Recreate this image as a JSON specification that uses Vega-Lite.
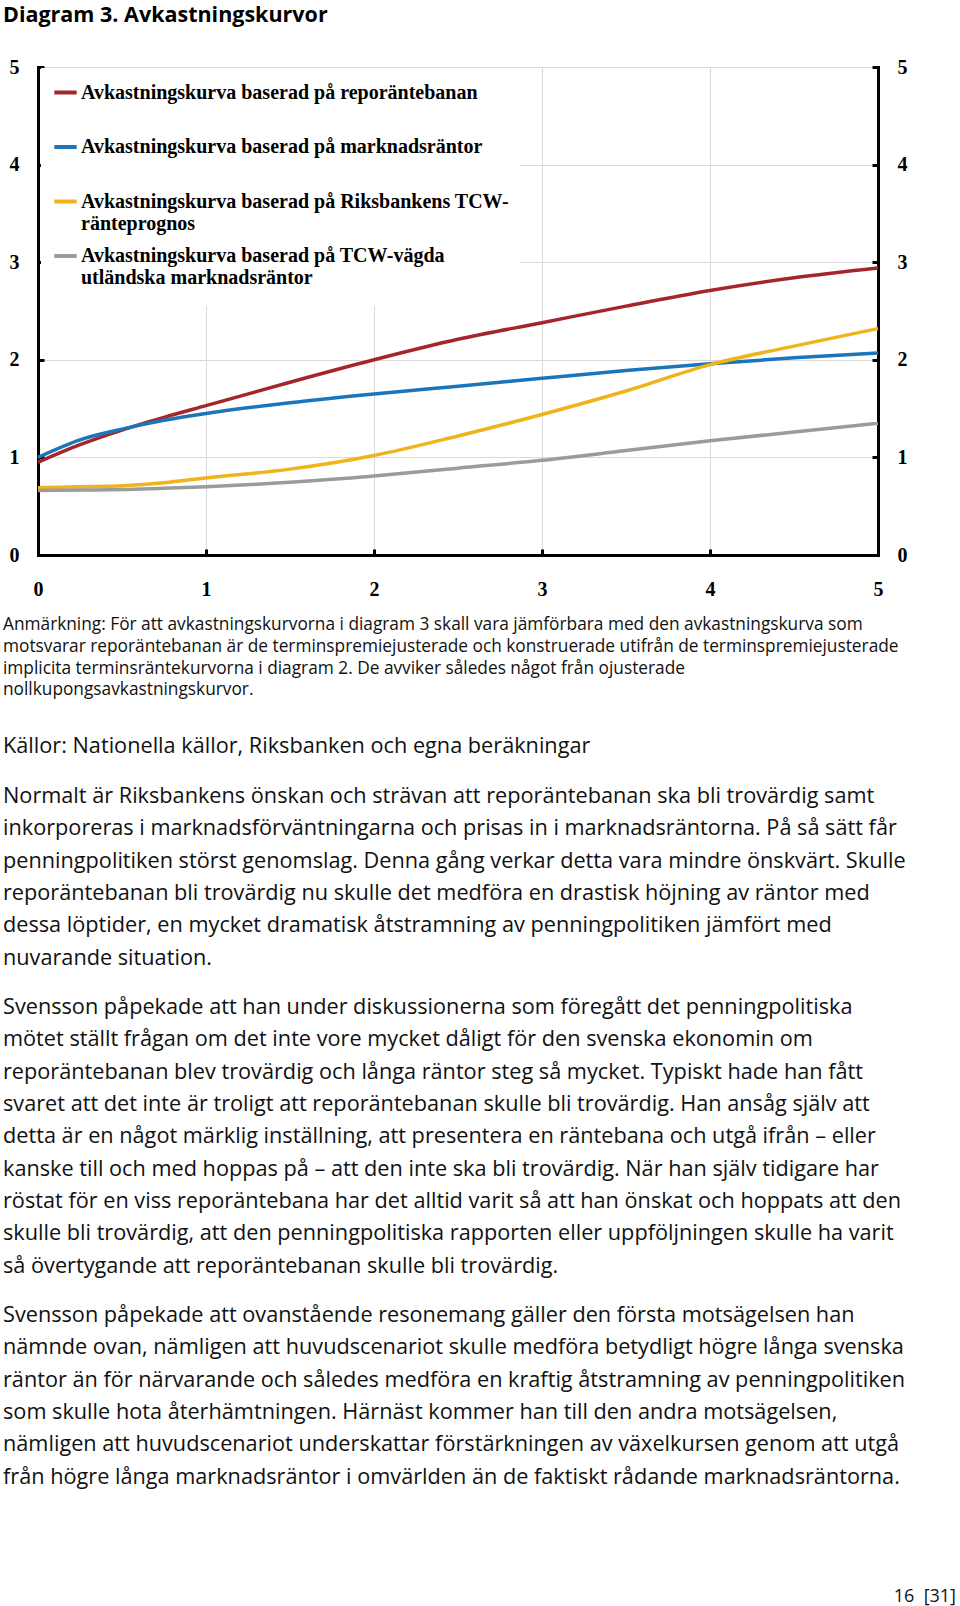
{
  "$schema": "https://vega.github.io/schema/vega-lite/v6.json",
  "background": "white",
  "padding": {"left": 3, "top": 4, "right": 0, "bottom": 0},
  "config": {"view": {"stroke": null}, "font": "Open Sans"},
  "title": {"text": "Diagram 3. Avkastningskurvor", "anchor": "start", "font": "Open Sans", "fontSize": 21.5, "fontWeight": "bold", "color": "#000000", "offset": 31},
  "spacing": 17,
  "datasets": {
    "kurvor": [
      {"lopetid": 0, "ranta": 0.95, "kurva": "Avkastningskurva baserad på reporäntebanan"},
      {"lopetid": 0.25, "ranta": 1.13, "kurva": "Avkastningskurva baserad på reporäntebanan"},
      {"lopetid": 0.5, "ranta": 1.28, "kurva": "Avkastningskurva baserad på reporäntebanan"},
      {"lopetid": 0.75, "ranta": 1.41, "kurva": "Avkastningskurva baserad på reporäntebanan"},
      {"lopetid": 1, "ranta": 1.53, "kurva": "Avkastningskurva baserad på reporäntebanan"},
      {"lopetid": 1.5, "ranta": 1.77, "kurva": "Avkastningskurva baserad på reporäntebanan"},
      {"lopetid": 2, "ranta": 2.0, "kurva": "Avkastningskurva baserad på reporäntebanan"},
      {"lopetid": 2.5, "ranta": 2.21, "kurva": "Avkastningskurva baserad på reporäntebanan"},
      {"lopetid": 3, "ranta": 2.38, "kurva": "Avkastningskurva baserad på reporäntebanan"},
      {"lopetid": 3.5, "ranta": 2.55, "kurva": "Avkastningskurva baserad på reporäntebanan"},
      {"lopetid": 4, "ranta": 2.71, "kurva": "Avkastningskurva baserad på reporäntebanan"},
      {"lopetid": 4.5, "ranta": 2.84, "kurva": "Avkastningskurva baserad på reporäntebanan"},
      {"lopetid": 5, "ranta": 2.94, "kurva": "Avkastningskurva baserad på reporäntebanan"},
      {"lopetid": 0, "ranta": 1.0, "kurva": "Avkastningskurva baserad på marknadsräntor"},
      {"lopetid": 0.25, "ranta": 1.18, "kurva": "Avkastningskurva baserad på marknadsräntor"},
      {"lopetid": 0.5, "ranta": 1.29, "kurva": "Avkastningskurva baserad på marknadsräntor"},
      {"lopetid": 0.75, "ranta": 1.38, "kurva": "Avkastningskurva baserad på marknadsräntor"},
      {"lopetid": 1, "ranta": 1.45, "kurva": "Avkastningskurva baserad på marknadsräntor"},
      {"lopetid": 1.5, "ranta": 1.56, "kurva": "Avkastningskurva baserad på marknadsräntor"},
      {"lopetid": 2, "ranta": 1.65, "kurva": "Avkastningskurva baserad på marknadsräntor"},
      {"lopetid": 2.5, "ranta": 1.73, "kurva": "Avkastningskurva baserad på marknadsräntor"},
      {"lopetid": 3, "ranta": 1.81, "kurva": "Avkastningskurva baserad på marknadsräntor"},
      {"lopetid": 3.5, "ranta": 1.89, "kurva": "Avkastningskurva baserad på marknadsräntor"},
      {"lopetid": 4, "ranta": 1.96, "kurva": "Avkastningskurva baserad på marknadsräntor"},
      {"lopetid": 4.5, "ranta": 2.02, "kurva": "Avkastningskurva baserad på marknadsräntor"},
      {"lopetid": 5, "ranta": 2.07, "kurva": "Avkastningskurva baserad på marknadsräntor"},
      {"lopetid": 0, "ranta": 0.69, "kurva": "Avkastningskurva baserad på Riksbankens TCW-ränteprognos"},
      {"lopetid": 0.25, "ranta": 0.7, "kurva": "Avkastningskurva baserad på Riksbankens TCW-ränteprognos"},
      {"lopetid": 0.5, "ranta": 0.71, "kurva": "Avkastningskurva baserad på Riksbankens TCW-ränteprognos"},
      {"lopetid": 0.75, "ranta": 0.74, "kurva": "Avkastningskurva baserad på Riksbankens TCW-ränteprognos"},
      {"lopetid": 1, "ranta": 0.79, "kurva": "Avkastningskurva baserad på Riksbankens TCW-ränteprognos"},
      {"lopetid": 1.5, "ranta": 0.88, "kurva": "Avkastningskurva baserad på Riksbankens TCW-ränteprognos"},
      {"lopetid": 2, "ranta": 1.02, "kurva": "Avkastningskurva baserad på Riksbankens TCW-ränteprognos"},
      {"lopetid": 2.5, "ranta": 1.22, "kurva": "Avkastningskurva baserad på Riksbankens TCW-ränteprognos"},
      {"lopetid": 3, "ranta": 1.44, "kurva": "Avkastningskurva baserad på Riksbankens TCW-ränteprognos"},
      {"lopetid": 3.5, "ranta": 1.68, "kurva": "Avkastningskurva baserad på Riksbankens TCW-ränteprognos"},
      {"lopetid": 4, "ranta": 1.95, "kurva": "Avkastningskurva baserad på Riksbankens TCW-ränteprognos"},
      {"lopetid": 4.5, "ranta": 2.14, "kurva": "Avkastningskurva baserad på Riksbankens TCW-ränteprognos"},
      {"lopetid": 5, "ranta": 2.32, "kurva": "Avkastningskurva baserad på Riksbankens TCW-ränteprognos"},
      {"lopetid": 0, "ranta": 0.66, "kurva": "Avkastningskurva baserad på TCW-vägda utländska marknadsräntor"},
      {"lopetid": 0.25, "ranta": 0.665, "kurva": "Avkastningskurva baserad på TCW-vägda utländska marknadsräntor"},
      {"lopetid": 0.5, "ranta": 0.67, "kurva": "Avkastningskurva baserad på TCW-vägda utländska marknadsräntor"},
      {"lopetid": 0.75, "ranta": 0.685, "kurva": "Avkastningskurva baserad på TCW-vägda utländska marknadsräntor"},
      {"lopetid": 1, "ranta": 0.7, "kurva": "Avkastningskurva baserad på TCW-vägda utländska marknadsräntor"},
      {"lopetid": 1.5, "ranta": 0.745, "kurva": "Avkastningskurva baserad på TCW-vägda utländska marknadsräntor"},
      {"lopetid": 2, "ranta": 0.81, "kurva": "Avkastningskurva baserad på TCW-vägda utländska marknadsräntor"},
      {"lopetid": 2.5, "ranta": 0.89, "kurva": "Avkastningskurva baserad på TCW-vägda utländska marknadsräntor"},
      {"lopetid": 3, "ranta": 0.97, "kurva": "Avkastningskurva baserad på TCW-vägda utländska marknadsräntor"},
      {"lopetid": 3.5, "ranta": 1.07, "kurva": "Avkastningskurva baserad på TCW-vägda utländska marknadsräntor"},
      {"lopetid": 4, "ranta": 1.17, "kurva": "Avkastningskurva baserad på TCW-vägda utländska marknadsräntor"},
      {"lopetid": 4.5, "ranta": 1.26, "kurva": "Avkastningskurva baserad på TCW-vägda utländska marknadsräntor"},
      {"lopetid": 5, "ranta": 1.35, "kurva": "Avkastningskurva baserad på TCW-vägda utländska marknadsräntor"}
    ],
    "tekst": [
      {"block": "not", "rad": 1, "text": "Anmärkning: För att avkastningskurvorna i diagram 3 skall vara jämförbara med den avkastningskurva som"},
      {"block": "not", "rad": 2, "text": "motsvarar reporäntebanan är de terminspremiejusterade och konstruerade utifrån de terminspremiejusterade"},
      {"block": "not", "rad": 3, "text": "implicita terminsräntekurvorna i diagram 2. De avviker således något från ojusterade"},
      {"block": "not", "rad": 4, "text": "nollkupongsavkastningskurvor."},
      {"block": "kallor", "rad": 1, "text": "Källor: Nationella källor, Riksbanken och egna beräkningar"},
      {"block": "p1", "rad": 1, "text": "Normalt är Riksbankens önskan och strävan att reporäntebanan ska bli trovärdig samt"},
      {"block": "p1", "rad": 2, "text": "inkorporeras i marknadsförväntningarna och prisas in i marknadsräntorna. På så sätt får"},
      {"block": "p1", "rad": 3, "text": "penningpolitiken störst genomslag. Denna gång verkar detta vara mindre önskvärt. Skulle"},
      {"block": "p1", "rad": 4, "text": "reporäntebanan bli trovärdig nu skulle det medföra en drastisk höjning av räntor med"},
      {"block": "p1", "rad": 5, "text": "dessa löptider, en mycket dramatisk åtstramning av penningpolitiken jämfört med"},
      {"block": "p1", "rad": 6, "text": "nuvarande situation."},
      {"block": "p2", "rad": 1, "text": "Svensson påpekade att han under diskussionerna som föregått det penningpolitiska"},
      {"block": "p2", "rad": 2, "text": "mötet ställt frågan om det inte vore mycket dåligt för den svenska ekonomin om"},
      {"block": "p2", "rad": 3, "text": "reporäntebanan blev trovärdig och långa räntor steg så mycket. Typiskt hade han fått"},
      {"block": "p2", "rad": 4, "text": "svaret att det inte är troligt att reporäntebanan skulle bli trovärdig. Han ansåg själv att"},
      {"block": "p2", "rad": 5, "text": "detta är en något märklig inställning, att presentera en räntebana och utgå ifrån – eller"},
      {"block": "p2", "rad": 6, "text": "kanske till och med hoppas på – att den inte ska bli trovärdig. När han själv tidigare har"},
      {"block": "p2", "rad": 7, "text": "röstat för en viss reporäntebana har det alltid varit så att han önskat och hoppats att den"},
      {"block": "p2", "rad": 8, "text": "skulle bli trovärdig, att den penningpolitiska rapporten eller uppföljningen skulle ha varit"},
      {"block": "p2", "rad": 9, "text": "så övertygande att reporäntebanan skulle bli trovärdig."},
      {"block": "p3", "rad": 1, "text": "Svensson påpekade att ovanstående resonemang gäller den första motsägelsen han"},
      {"block": "p3", "rad": 2, "text": "nämnde ovan, nämligen att huvudscenariot skulle medföra betydligt högre långa svenska"},
      {"block": "p3", "rad": 3, "text": "räntor än för närvarande och således medföra en kraftig åtstramning av penningpolitiken"},
      {"block": "p3", "rad": 4, "text": "som skulle hota återhämtningen. Härnäst kommer han till den andra motsägelsen,"},
      {"block": "p3", "rad": 5, "text": "nämligen att huvudscenariot underskattar förstärkningen av växelkursen genom att utgå"},
      {"block": "p3", "rad": 6, "text": "från högre långa marknadsräntor i omvärlden än de faktiskt rådande marknadsräntorna."},
      {"block": "sida", "rad": 1, "text": "16\u00a0 [31]"}
    ]
  },
  "vconcat": [
    {
      "width": 840,
      "height": 488,
      "data": {"name": "kurvor"},
      "layer": [
        {
          "mark": {"type": "line", "strokeWidth": 3.5, "interpolate": "monotone"},
          "encoding": {
            "x": {
              "field": "lopetid", "type": "quantitative",
              "scale": {"domain": [0, 5], "nice": false, "zero": false},
              "axis": {
                "title": null, "values": [0, 1, 2, 3, 4, 5], "format": "d", "labelFlush": false, "labelOverlap": false,
                "domainColor": "#000000", "domainWidth": 3, "domainCap": "square",
                "ticks": true, "tickColor": "#000000", "tickWidth": 3, "tickSize": -6,
                "grid": true, "gridColor": "#d9d9d9", "gridWidth": 1,
                "labelFont": "Liberation Serif", "labelFontSize": 20, "labelFontWeight": "bold", "labelColor": "#000000",
                "labelPadding": 30
              }
            },
            "y": {
              "field": "ranta", "type": "quantitative",
              "scale": {"domain": [0, 5], "nice": false},
              "axis": {
                "title": null, "orient": "left", "values": [0, 1, 2, 3, 4, 5], "format": "d", "labelOverlap": false,
                "domainColor": "#000000", "domainWidth": 3, "domainCap": "square",
                "ticks": true, "tickColor": "#000000", "tickWidth": 3, "tickSize": -6,
                "grid": true, "gridColor": "#d9d9d9", "gridWidth": 1,
                "labelFont": "Liberation Serif", "labelFontSize": 20, "labelFontWeight": "bold", "labelColor": "#000000",
                "labelPadding": 25
              }
            },
            "color": {
              "field": "kurva", "type": "nominal",
              "scale": {
                "domain": [
                  "Avkastningskurva baserad på reporäntebanan",
                  "Avkastningskurva baserad på marknadsräntor",
                  "Avkastningskurva baserad på Riksbankens TCW-ränteprognos",
                  "Avkastningskurva baserad på TCW-vägda utländska marknadsräntor"
                ],
                "range": ["#a6252d", "#1b75bb", "#f1b31c", "#9b9b9b"]
              },
              "legend": {
                "title": null, "orient": "none", "legendX": 3, "legendY": 1, "direction": "vertical",
                "padding": 11, "fillColor": "#ffffff",
                "symbolType": "M-1,-0.5L-1,-0.5M-1,0L1,0M1,2.73L1,2.73",
                "symbolSize": 500, "symbolStrokeWidth": 4,
                "labelFont": "Liberation Serif", "labelFontSize": 20, "labelFontWeight": "bold", "labelColor": "#000000",
                "labelOffset": 2, "labelLimit": 700, "rowPadding": 0.5,
                "labelExpr": "datum.label == 'Avkastningskurva baserad på Riksbankens TCW-ränteprognos' ? ['Avkastningskurva baserad på Riksbankens TCW-', 'ränteprognos'] : datum.label == 'Avkastningskurva baserad på TCW-vägda utländska marknadsräntor' ? ['Avkastningskurva baserad på TCW-vägda', 'utländska marknadsräntor'] : datum.label"
              }
            }
          }
        },
        {
          "mark": {"type": "point", "opacity": 0},
          "encoding": {
            "x": {"field": "lopetid", "type": "quantitative"},
            "y": {
              "field": "ranta", "type": "quantitative",
              "axis": {
                "title": null, "orient": "right", "values": [0, 1, 2, 3, 4, 5], "format": "d", "labelOverlap": false,
                "domainColor": "#000000", "domainWidth": 3, "domainCap": "square",
                "ticks": true, "tickColor": "#000000", "tickWidth": 3, "tickSize": -6,
                "grid": false,
                "labelFont": "Liberation Serif", "labelFontSize": 20, "labelFontWeight": "bold", "labelColor": "#000000",
                "labelPadding": 25
              }
            }
          }
        }
      ],
      "resolve": {"axis": {"y": "independent"}}
    },
    {
      "width": 918,
      "height": 94.6,
      "data": {"name": "tekst"},
      "transform": [{"filter": "datum.block == 'not'"}],
      "mark": {"type": "text", "align": "left", "baseline": "middle", "dx": -35, "font": "Open Sans", "fontSize": 17.3, "color": "#111111"},
      "encoding": {
        "x": {"value": 0},
        "y": {"field": "rad", "type": "ordinal", "axis": null, "scale": {"type": "point", "padding": 0.67, "align": 0.24}},
        "text": {"field": "text"}
      }
    },
    {
      "width": 918,
      "height": 32.3,
      "data": {"name": "tekst"},
      "transform": [{"filter": "datum.block == 'kallor'"}],
      "mark": {"type": "text", "align": "left", "baseline": "middle", "dx": -35, "font": "Open Sans", "fontSize": 21.7, "color": "#111111"},
      "encoding": {
        "x": {"value": 0},
        "y": {"field": "rad", "type": "ordinal", "axis": null, "scale": {"type": "point", "padding": 0.5}},
        "text": {"field": "text"}
      }
    },
    {
      "width": 918,
      "height": 193.8,
      "data": {"name": "tekst"},
      "transform": [{"filter": "datum.block == 'p1'"}],
      "mark": {"type": "text", "align": "left", "baseline": "middle", "dx": -35, "font": "Open Sans", "fontSize": 21.7, "color": "#111111"},
      "encoding": {
        "x": {"value": 0},
        "y": {"field": "rad", "type": "ordinal", "axis": null, "scale": {"type": "point", "padding": 0.5}},
        "text": {"field": "text"}
      }
    },
    {
      "width": 918,
      "height": 290.7,
      "data": {"name": "tekst"},
      "transform": [{"filter": "datum.block == 'p2'"}],
      "mark": {"type": "text", "align": "left", "baseline": "middle", "dx": -35, "font": "Open Sans", "fontSize": 21.7, "color": "#111111"},
      "encoding": {
        "x": {"value": 0},
        "y": {"field": "rad", "type": "ordinal", "axis": null, "scale": {"type": "point", "padding": 0.5}},
        "text": {"field": "text"}
      }
    },
    {
      "width": 918,
      "height": 193.8,
      "data": {"name": "tekst"},
      "transform": [{"filter": "datum.block == 'p3'"}],
      "mark": {"type": "text", "align": "left", "baseline": "middle", "dx": -35, "font": "Open Sans", "fontSize": 21.7, "color": "#111111"},
      "encoding": {
        "x": {"value": 0},
        "y": {"field": "rad", "type": "ordinal", "axis": null, "scale": {"type": "point", "padding": 0.5}},
        "text": {"field": "text"}
      }
    },
    {
      "width": 918,
      "height": 92,
      "data": {"name": "tekst"},
      "transform": [{"filter": "datum.block == 'sida'"}],
      "mark": {"type": "text", "align": "right", "baseline": "middle", "font": "Open Sans", "fontSize": 18, "color": "#111111"},
      "encoding": {
        "x": {"value": "width"},
        "y": {"field": "rad", "type": "ordinal", "axis": null, "scale": {"type": "point", "padding": 0.5, "align": 0.95}},
        "text": {"field": "text"}
      }
    }
  ]
}
